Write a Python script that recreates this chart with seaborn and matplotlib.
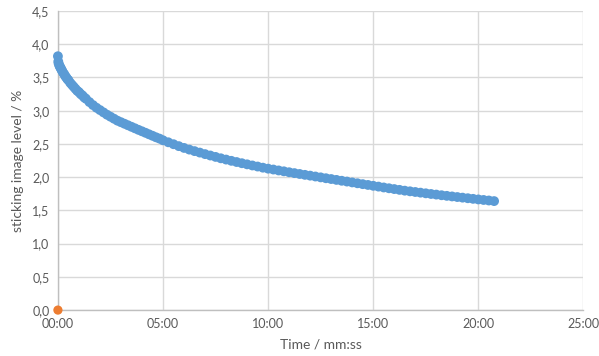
import pandas as pd
import matplotlib.pyplot as plt
import matplotlib.ticker as mticker
import seaborn as sns

# time in seconds, sticking image level in %
time_s = [0, 1, 2, 4, 6, 8, 10, 12, 15, 18, 21, 24, 27, 30, 35, 40, 45, 50, 55, 60,
          65, 70, 75, 80, 90, 100, 110, 120, 130, 140, 150, 160, 170, 180, 190, 200,
          210, 220, 230, 240, 250, 260, 270, 280, 290,
          300, 315, 330, 345, 360, 375, 390, 405, 420, 435, 450, 465, 480, 495, 510,
          525, 540, 555, 570, 585, 600, 615, 630, 645, 660, 675, 690, 705, 720, 735,
          750, 765, 780, 795, 810, 825, 840, 855, 870, 885, 900, 915, 930, 945, 960,
          975, 990, 1005, 1020, 1035, 1050, 1065, 1080, 1095, 1110, 1125, 1140, 1155,
          1170, 1185, 1200, 1215, 1230, 1245]
level = [3.82, 3.74, 3.71, 3.68, 3.66, 3.64, 3.62, 3.60, 3.57, 3.55, 3.52, 3.50, 3.475,
         3.46, 3.42, 3.39, 3.36, 3.33, 3.30, 3.28, 3.25, 3.23, 3.20, 3.18, 3.13, 3.085,
         3.045, 3.01, 2.975, 2.94, 2.91, 2.88, 2.85, 2.827, 2.804, 2.781, 2.758, 2.735,
         2.712, 2.69, 2.668, 2.645, 2.623, 2.60, 2.58,
         2.555, 2.525, 2.496, 2.467, 2.44, 2.415, 2.392, 2.37, 2.347, 2.326, 2.305,
         2.284, 2.265, 2.246, 2.228, 2.21, 2.193, 2.176, 2.16, 2.143, 2.128, 2.115,
         2.101, 2.088, 2.074, 2.061, 2.048, 2.035, 2.023, 2.01, 1.997, 1.984, 1.972,
         1.959, 1.946, 1.934, 1.921, 1.908, 1.895, 1.883, 1.87, 1.858, 1.845, 1.833,
         1.821, 1.809, 1.797, 1.787, 1.777, 1.767, 1.757, 1.747, 1.738, 1.728, 1.719,
         1.71, 1.701, 1.692, 1.683, 1.674, 1.665, 1.657, 1.649, 1.64]
ref_time = [0]
ref_level = [0.0]

x_ticks = [0, 300, 600, 900, 1200, 1500]
y_ticks = [0, 0.5, 1.0, 1.5, 2.0, 2.5, 3.0, 3.5, 4.0, 4.5]

sns.set_style("white")
plt.rcParams['font.family'] = ['Lato', 'DejaVu Sans']

df = pd.DataFrame({"t": time_s, "v": level})
df0 = pd.DataFrame({"t": ref_time, "v": ref_level})

fig = plt.figure(figsize=(5.99, 3.56), dpi=100)
ax = fig.add_axes([0.0967, 0.129, 0.8773, 0.84])

sns.scatterplot(data=df, x="t", y="v", ax=ax, color="#5B9BD5", s=50,
                edgecolor="none", zorder=3, clip_on=False)
sns.scatterplot(data=df0, x="t", y="v", ax=ax, color="#ED7D31", s=44,
                edgecolor="none", zorder=4, clip_on=False)

ax.set_xlim(0, 1500)
ax.set_ylim(0, 4.5)
ax.set_xticks(x_ticks)
ax.set_yticks(y_ticks)
ax.xaxis.set_major_formatter(mticker.FuncFormatter(
    lambda v, p: "%02d:%02d" % (int(v) // 60, int(v) % 60)))
ax.yaxis.set_major_formatter(mticker.FuncFormatter(
    lambda v, p: ("%.1f" % v).replace(".", ",")))

ax.grid(True, color="#D9D9D9", linewidth=1)
ax.set_axisbelow(True)
for s in ["top", "right"]:
    ax.spines[s].set_visible(False)
for s in ["left", "bottom"]:
    ax.spines[s].set_color("#BFBFBF")
    ax.spines[s].set_linewidth(1)
ax.tick_params(axis="both", length=0, labelsize=9, colors="#595959", pad=6)

ax.set_xlabel("Time / mm:ss", fontsize=10, color="#595959", labelpad=6)
ax.set_ylabel("sticking image level / %", fontsize=10, color="#595959", labelpad=6)

fig.savefig("out.png", dpi=100)
